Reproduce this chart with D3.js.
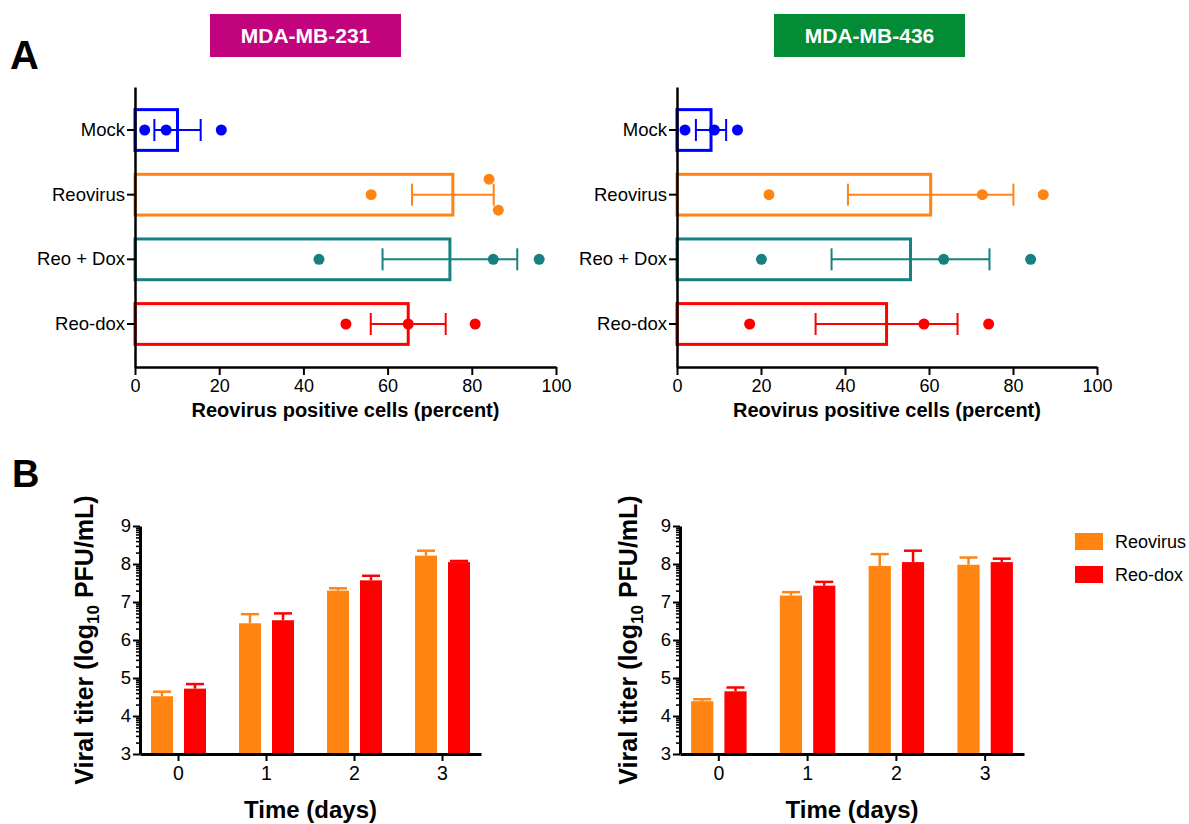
<!DOCTYPE html>
<html>
<head>
<meta charset="utf-8">
<script src="https://cdn.jsdelivr.net/npm/d3@7"></script>
<style>
    body { margin: 0; background: #fff; }
    text { font-family: Arial, "Liberation Sans", sans-serif; }
</style>
</head>
<body>
<div id="chart"></div>
<script>
// panel A data
const groups = ["Mock", "Reovirus", "Reo + Dox", "Reo-dox"];
const groupColors = ["#0000ff", "#ff8412", "#178080", "#ff0000"];
const pctTicks = [0, 20, 40, 60, 80, 100];

const mb231Mean = [10.1, 75.5, 74.8, 64.9];
const mb231Sem = [5.5, 9.7, 16.0, 8.9];
const mb231Points = [[2.3, 7.4, 20.5], [56.1, 84.1, 86.3], [43.7, 85.1, 96.0], [50.1, 64.9, 80.8]];

const mb436Mean = [8.1, 60.4, 55.6, 49.9];
const mb436Sem = [3.6, 19.7, 18.8, 16.9];
const mb436Points = [[1.9, 8.9, 14.4], [21.9, 72.7, 87.2], [20.1, 63.5, 84.2], [17.3, 58.8, 74.2]];

// panel B data
const days = [0, 1, 2, 3];
const series = ["Reovirus", "Reo-dox"];
const seriesColors = ["#ff8412", "#ff0000"];
const titerTicks = [3, 4, 5, 6, 7, 8, 9];

const mb231Reo = [4.52, 6.44, 7.30, 8.22];
const mb231ReoErr = [0.12, 0.24, 0.06, 0.13];
const mb231Dox = [4.72, 6.52, 7.57, 8.05];
const mb231DoxErr = [0.12, 0.18, 0.12, 0.03];

const mb436Reo = [4.39, 7.17, 7.95, 7.98];
const mb436ReoErr = [0.05, 0.09, 0.31, 0.19];
const mb436Dox = [4.65, 7.43, 8.05, 8.05];
const mb436DoxErr = [0.10, 0.10, 0.30, 0.09];

const width = 1189;
const height = 824;

const svg = d3.select("#chart")
    .append("svg")
    .attr("width", width)
    .attr("height", height)
    .attr("viewBox", [0, 0, width, height]);

function styleAxis(g, lineWidth) {
    g.select(".domain").attr("stroke", "#000").attr("stroke-width", lineWidth);
    g.selectAll(".tick line").attr("stroke", "#000").attr("stroke-width", 2);
    g.selectAll(".tick text").attr("fill", "#000").style("font-family", "Arial, 'Liberation Sans', sans-serif");
}

function drawScatterBar({means, sems, points, x0, x1, top = 87, bottom = 367}) {
    const xScale = d3.scaleLinear([0, 100], [x0, x1]);
    const yScale = d3.scaleBand(groups, [top, bottom]).paddingInner(0.37).paddingOuter(0.35);
    const bw = yScale.bandwidth();
    const g = svg.append("g");

    // outlined bars
    g.selectAll("rect.bar")
        .data(groups)
        .join("rect")
        .attr("class", "bar")
        .attr("x", xScale(0))
        .attr("y", d => yScale(d))
        .attr("width", (d, i) => xScale(means[i]) - xScale(0))
        .attr("height", bw)
        .attr("fill", "none")
        .attr("stroke", (d, i) => groupColors[i])
        .attr("stroke-width", 3);

    // error bars (mean +/- sem)
    groups.forEach((grp, i) => {
        const cy = yScale(grp) + bw / 2;
        const lo = xScale(means[i] - sems[i]);
        const hi = xScale(means[i] + sems[i]);
        const eg = g.append("g").attr("stroke", groupColors[i]).attr("stroke-width", 2);
        eg.append("line").attr("x1", lo).attr("x2", hi).attr("y1", cy).attr("y2", cy);
        eg.append("line").attr("x1", lo).attr("x2", lo).attr("y1", cy - bw * 0.27).attr("y2", cy + bw * 0.27);
        eg.append("line").attr("x1", hi).attr("x2", hi).attr("y1", cy - bw * 0.27).attr("y2", cy + bw * 0.27);

        // dots, pushed apart vertically when they overlap
        const sorted = points[i].slice().sort((a, b) => a - b);
        const offsets = sorted.map(() => 0);
        for (let k = 1; k < sorted.length; k++) {
            if (xScale(sorted[k]) - xScale(sorted[k - 1]) < 12 && offsets[k - 1] === 0) {
                offsets[k - 1] = -bw * 0.38;
                offsets[k] = bw * 0.38;
            }
        }
        g.append("g")
            .selectAll("circle")
            .data(sorted)
            .join("circle")
            .attr("cx", d => xScale(d))
            .attr("cy", (d, k) => cy + offsets[k])
            .attr("r", 5.5)
            .attr("fill", groupColors[i]);
    });

    const xAxis = svg.append("g")
        .attr("transform", `translate(0,${bottom})`)
        .call(d3.axisBottom(xScale).tickValues(pctTicks).tickSize(8).tickSizeOuter(0).tickPadding(4))
        .call(g => g.selectAll(".tick text").attr("font-size", 18));
    styleAxis(xAxis, 2.5);

    const yAxis = svg.append("g")
        .attr("transform", `translate(${x0},0)`)
        .call(d3.axisLeft(yScale).tickSize(8).tickSizeOuter(0).tickPadding(2))
        .call(g => g.selectAll(".tick text").attr("font-size", 18.5));
    styleAxis(yAxis, 2.5);

    svg.append("text")
        .attr("x", (x0 + x1) / 2)
        .attr("y", 417)
        .attr("text-anchor", "middle")
        .attr("font-size", 20)
        .attr("font-weight", "bold")
        .text("Reovirus positive cells (percent)");
}

function drawTiterBars({reo, reoErr, dox, doxErr, x0, x1, titleX, top = 526, bottom = 754}) {
    const values = [reo, dox];
    const errs = [reoErr, doxErr];
    const xScale = d3.scaleBand(days, [x0, x1]).paddingInner(0.375).paddingOuter(0.125);
    const xSub = d3.scaleBand(series, [0, xScale.bandwidth()]).paddingInner(0.333);
    const yScale = d3.scaleLinear([3, 9], [bottom, top]);
    const g = svg.append("g");

    series.forEach((s, si) => {
        const sg = g.append("g");
        sg.selectAll("rect")
            .data(days)
            .join("rect")
            .attr("x", d => xScale(d) + xSub(s))
            .attr("y", (d, i) => yScale(values[si][i]))
            .attr("width", xSub.bandwidth())
            .attr("height", (d, i) => yScale(3) - yScale(values[si][i]))
            .attr("fill", seriesColors[si]);

        // upper error bars only
        days.forEach((d, i) => {
            const cx = xScale(d) + xSub(s) + xSub.bandwidth() / 2;
            const yTop = yScale(values[si][i] + errs[si][i]);
            const yBar = yScale(values[si][i]);
            sg.append("line").attr("x1", cx).attr("x2", cx).attr("y1", yBar).attr("y2", yTop)
                .attr("stroke", seriesColors[si]).attr("stroke-width", 2.5);
            sg.append("line").attr("x1", cx - 9).attr("x2", cx + 9).attr("y1", yTop).attr("y2", yTop)
                .attr("stroke", seriesColors[si]).attr("stroke-width", 2.5);
        });
    });

    // log style minor ticks between the whole numbers
    const minor = [];
    titerTicks.slice(0, -1).forEach(t => {
        for (let k = 2; k <= 9; k++) minor.push(t + Math.log10(k));
    });
    const yMinor = svg.append("g")
        .attr("transform", `translate(${x0},0)`)
        .call(d3.axisLeft(yScale).tickValues(minor).tickSize(4).tickFormat(""));
    yMinor.select(".domain").remove();
    yMinor.selectAll(".tick line").attr("stroke", "#000").attr("stroke-width", 1.6);

    const yAxis = svg.append("g")
        .attr("transform", `translate(${x0},0)`)
        .call(d3.axisLeft(yScale).tickValues(titerTicks).tickSize(7).tickSizeOuter(0).tickPadding(2).tickFormat(d3.format("d")))
        .call(g => g.selectAll(".tick text").attr("font-size", 18.5));
    styleAxis(yAxis, 3);

    const xAxis = svg.append("g")
        .attr("transform", `translate(0,${bottom})`)
        .call(d3.axisBottom(xScale).tickSize(7).tickSizeOuter(0).tickPadding(5))
        .call(g => g.selectAll(".tick text").attr("font-size", 19.5));
    styleAxis(xAxis, 3);

    svg.append("text")
        .attr("x", (xScale(0) + xScale(3) + xScale.bandwidth()) / 2)
        .attr("y", 818)
        .attr("text-anchor", "middle")
        .attr("font-size", 24)
        .attr("font-weight", "bold")
        .text("Time (days)");

    const yTitle = svg.append("text")
        .attr("transform", `translate(${titleX},${(top + bottom) / 2}) rotate(-90)`)
        .attr("text-anchor", "middle")
        .attr("font-size", 25)
        .attr("font-weight", "bold");
    yTitle.append("tspan").text("Viral titer (log");
    yTitle.append("tspan").attr("font-size", 17).attr("dy", 6).text("10");
    yTitle.append("tspan").attr("dy", -6).text(" PFU/mL)");
}

// headers
const headers = [
    {label: "MDA-MB-231", x: 210, color: "#c1037e"},
    {label: "MDA-MB-436", x: 774, color: "#038b35"}
];
headers.forEach(h => {
    svg.append("rect").attr("x", h.x).attr("y", 14).attr("width", 191).attr("height", 43).attr("fill", h.color);
    svg.append("text")
        .attr("x", h.x + 95.5)
        .attr("y", 43)
        .attr("text-anchor", "middle")
        .attr("font-size", 21)
        .attr("font-weight", "bold")
        .attr("fill", "#fff")
        .text(h.label);
});

svg.append("text").attr("x", 10).attr("y", 69).attr("font-size", 40).attr("font-weight", "bold").text("A");
svg.append("text").attr("x", 12).attr("y", 487).attr("font-size", 38).attr("font-weight", "bold").text("B");

drawScatterBar({means: mb231Mean, sems: mb231Sem, points: mb231Points, x0: 135, x1: 556});
drawScatterBar({means: mb436Mean, sems: mb436Sem, points: mb436Points, x0: 677, x1: 1097});

drawTiterBars({reo: mb231Reo, reoErr: mb231ReoErr, dox: mb231Dox, doxErr: mb231DoxErr, x0: 140, x1: 481, titleX: 93});
drawTiterBars({reo: mb436Reo, reoErr: mb436ReoErr, dox: mb436Dox, doxErr: mb436DoxErr, x0: 680, x1: 1024, titleX: 637});

// legend
const legend = svg.append("g").attr("transform", "translate(1075,533)");
series.forEach((s, i) => {
    legend.append("rect").attr("x", 0).attr("y", i * 33).attr("width", 28).attr("height", 17).attr("fill", seriesColors[i]);
    legend.append("text").attr("x", 40).attr("y", i * 33 + 15).attr("font-size", 18).text(s);
});
</script>
</body>
</html>
